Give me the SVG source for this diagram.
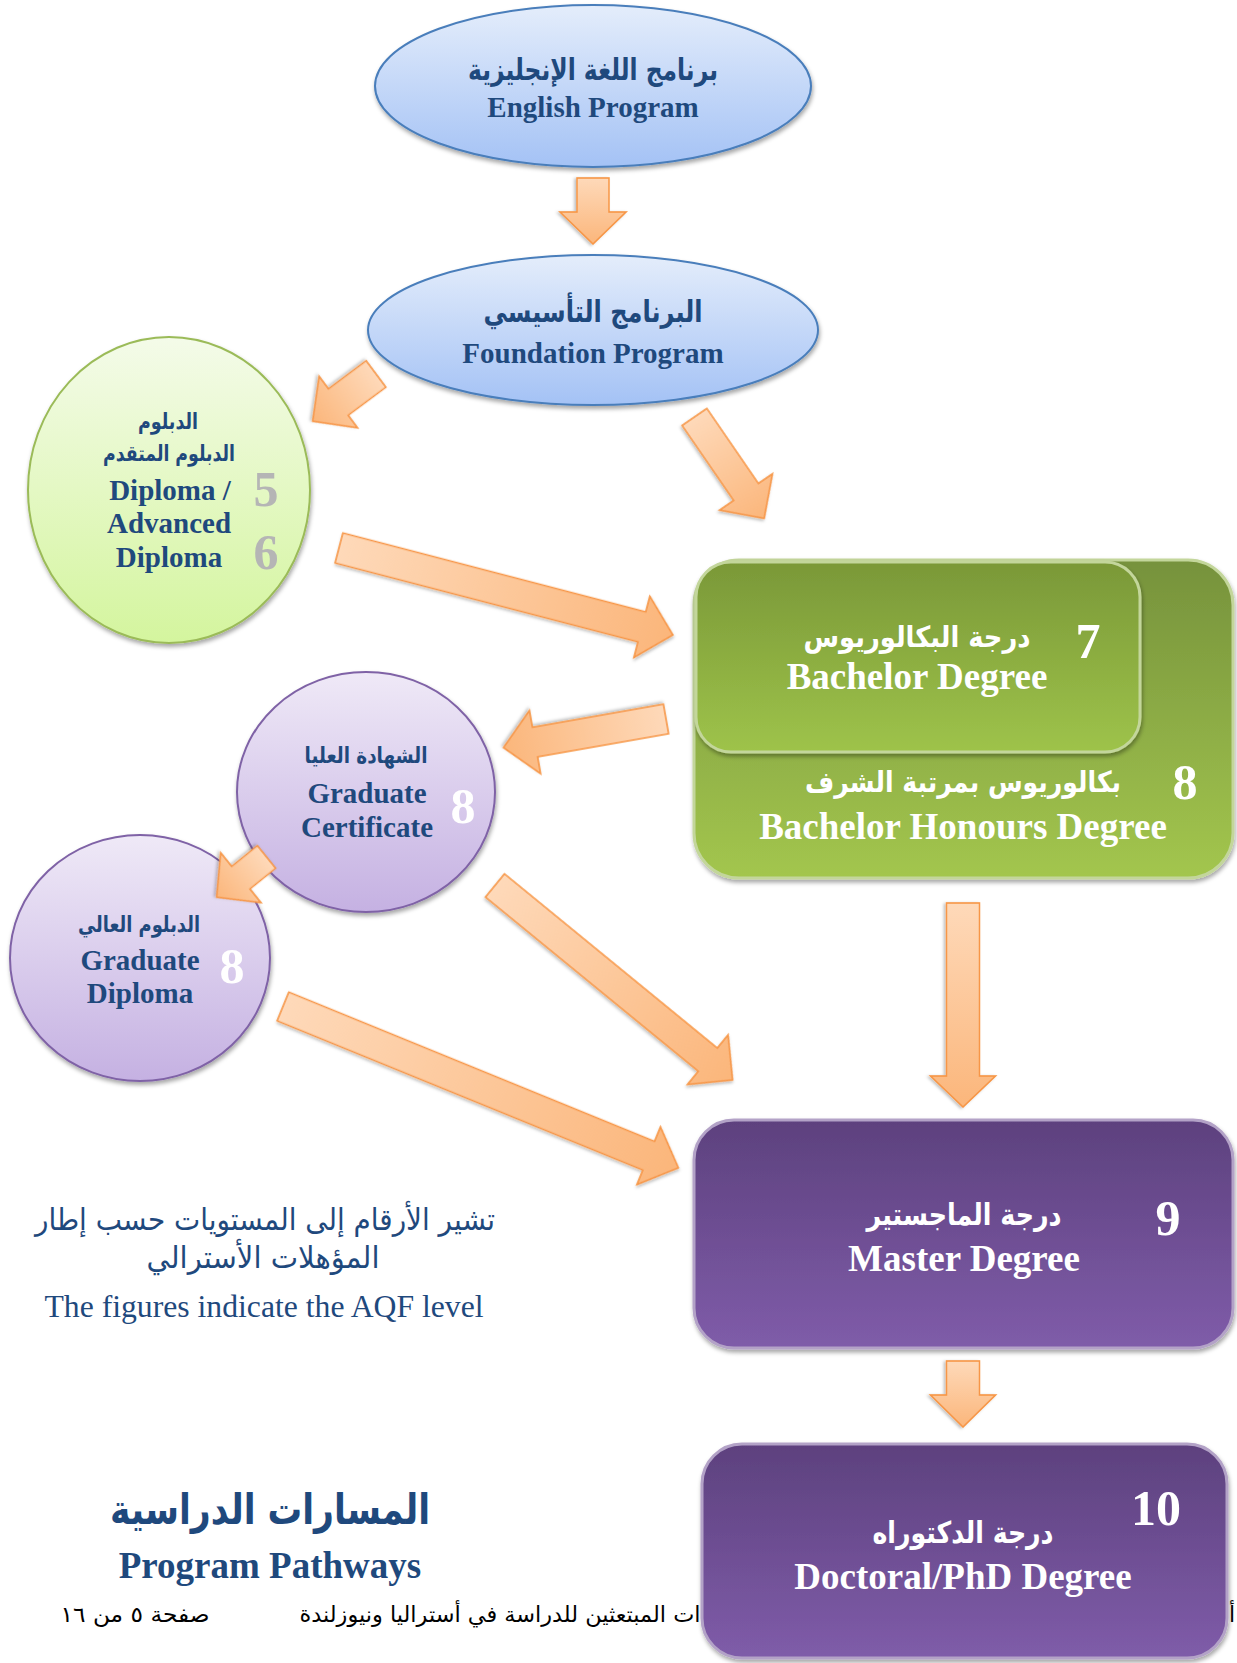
<svg xmlns="http://www.w3.org/2000/svg" width="1237" height="1663" viewBox="0 0 1237 1663">
<style>
.en{font-family:"Liberation Serif","Times New Roman",serif;font-weight:bold;text-anchor:middle}
.ar{font-family:"DejaVu Sans",sans-serif;font-weight:bold;text-anchor:middle}
.arr{font-family:"DejaVu Sans",sans-serif;text-anchor:middle}
.navy{fill:#1f497d}
.wh{fill:#ffffff}
.num{font-family:"Liberation Serif","Times New Roman",serif;font-weight:bold;text-anchor:middle;font-size:50px}
.arrow{fill:url(#gArrow);stroke:#f79646;stroke-width:1.6;filter:url(#shA)}
</style>
<defs>
<linearGradient id="gBlue" x1="0" y1="0" x2="0" y2="1"><stop offset="0" stop-color="#e4edfb"/><stop offset="1" stop-color="#a4c2f5"/></linearGradient>
<linearGradient id="gGreenC" x1="0" y1="0" x2="0" y2="1"><stop offset="0" stop-color="#f4fbe9"/><stop offset="1" stop-color="#d4f59e"/></linearGradient>
<linearGradient id="gPurpleC" x1="0" y1="0" x2="0" y2="1"><stop offset="0" stop-color="#efe9f7"/><stop offset="1" stop-color="#c5b1e2"/></linearGradient>
<linearGradient id="gGreenBox" x1="0" y1="0" x2="0" y2="1"><stop offset="0" stop-color="#76923c"/><stop offset="1" stop-color="#a3c64e"/></linearGradient>
<linearGradient id="gGreenIn" x1="0" y1="0" x2="0" y2="1"><stop offset="0" stop-color="#7a9838"/><stop offset="1" stop-color="#9ec34a"/></linearGradient>
<linearGradient id="gPurpleBox" x1="0" y1="0" x2="0" y2="1"><stop offset="0" stop-color="#5d417e"/><stop offset="1" stop-color="#7f5ca9"/></linearGradient>
<linearGradient id="gArrow" x1="0" y1="0" x2="1" y2="0"><stop offset="0" stop-color="#fed9b9"/><stop offset="1" stop-color="#fbb67b"/></linearGradient>
<filter id="sh" x="-10%" y="-10%" width="125%" height="130%"><feDropShadow dx="1" dy="3" stdDeviation="2" flood-color="#000" flood-opacity="0.35"/></filter>
<filter id="shA" x="-10%" y="-20%" width="130%" height="150%"><feDropShadow dx="1" dy="2" stdDeviation="1.5" flood-color="#000" flood-opacity="0.25"/></filter>
</defs>
<rect width="1237" height="1663" fill="#ffffff"/>

<g id="legend">
<text class="arr navy" x="265" y="1230" font-size="30" textLength="460" lengthAdjust="spacingAndGlyphs">تشير الأرقام إلى المستويات حسب إطار</text>
<text class="arr navy" x="263" y="1268" font-size="30" textLength="233" lengthAdjust="spacingAndGlyphs">المؤهلات الأسترالي</text>
<text x="264" y="1317" font-family="'Liberation Serif','Times New Roman',serif" font-size="31.7" text-anchor="middle" fill="#1f497d">The figures indicate the AQF level</text>
</g>

<g id="title">
<text class="ar navy" x="270" y="1524" font-size="42" textLength="320" lengthAdjust="spacingAndGlyphs">المسارات الدراسية</text>
<text class="en navy" x="270" y="1578" font-size="37">Program Pathways</text>
</g>

<g id="footer">
<text class="arr" x="135" y="1622" font-size="22" fill="#000" textLength="149" lengthAdjust="spacingAndGlyphs">صفحة ٥ من ١٦</text>
<text class="arr" x="500" y="1622" font-size="22" fill="#000" textLength="401" lengthAdjust="spacingAndGlyphs">ات المبتعثين للدراسة في أستراليا ونيوزلندة</text>
<text x="1229" y="1622" font-family="'DejaVu Sans',sans-serif" font-size="22" fill="#000">أ</text>
</g>

<g id="english">
<ellipse cx="593" cy="86" rx="218" ry="81" fill="url(#gBlue)" stroke="#4a7ebb" stroke-width="2" filter="url(#sh)"/>
<text class="ar navy" x="593" y="80" font-size="30" textLength="250" lengthAdjust="spacingAndGlyphs">برنامج اللغة الإنجليزية</text>
<text class="en navy" x="593" y="117" font-size="29">English Program</text>
</g>

<g id="foundation">
<ellipse cx="593" cy="330" rx="225" ry="75" fill="url(#gBlue)" stroke="#4a7ebb" stroke-width="2" filter="url(#sh)"/>
<text class="ar navy" x="593" y="322" font-size="30" textLength="219" lengthAdjust="spacingAndGlyphs">البرنامج التأسيسي</text>
<text class="en navy" x="593" y="363" font-size="29">Foundation Program</text>
</g>

<g id="diploma">
<ellipse cx="169" cy="490" rx="141" ry="153" fill="url(#gGreenC)" stroke="#9bbb59" stroke-width="2" filter="url(#sh)"/>
<text class="ar navy" x="168" y="429" font-size="22" textLength="60" lengthAdjust="spacingAndGlyphs">الدبلوم</text>
<text class="ar navy" x="169" y="461" font-size="22" textLength="132" lengthAdjust="spacingAndGlyphs">الدبلوم المتقدم</text>
<text class="en navy" x="170" y="500" font-size="29">Diploma /</text>
<text class="en navy" x="169" y="533" font-size="29">Advanced</text>
<text class="en navy" x="169" y="567" font-size="29">Diploma</text>
<text class="num" x="266" y="506" fill="#b5b5b5">5</text>
<text class="num" x="266" y="569" fill="#b5b5b5">6</text>
</g>

<g id="bachelor">
<rect x="694" y="560" width="539" height="318" rx="45" fill="url(#gGreenBox)" stroke="#c3d69b" stroke-width="3" filter="url(#sh)"/>
<rect x="696" y="562" width="444" height="190" rx="35" fill="url(#gGreenIn)" stroke="#c3d69b" stroke-width="3" filter="url(#sh)"/>
<text class="num wh" x="1088" y="658">7</text>
<text class="ar wh" x="917" y="647" font-size="29" textLength="227" lengthAdjust="spacingAndGlyphs">درجة البكالوريوس</text>
<text class="en wh" x="917" y="689" font-size="37">Bachelor Degree</text>
<text class="num wh" x="1185" y="799">8</text>
<text class="ar wh" x="963" y="792" font-size="29" textLength="316" lengthAdjust="spacingAndGlyphs">بكالوريوس بمرتبة الشرف</text>
<text class="en wh" x="963" y="839" font-size="37">Bachelor Honours Degree</text>
</g>

<g id="gradcert">
<ellipse cx="366" cy="792" rx="129" ry="120" fill="url(#gPurpleC)" stroke="#7f62a6" stroke-width="2" filter="url(#sh)"/>
<text class="ar navy" x="366" y="763" font-size="22" textLength="123" lengthAdjust="spacingAndGlyphs">الشهادة العليا</text>
<text class="en navy" x="367" y="803" font-size="29">Graduate</text>
<text class="en navy" x="367" y="837" font-size="29">Certificate</text>
<text class="num wh" x="463" y="823">8</text>
</g>

<g id="graddip">
<ellipse cx="140" cy="958" rx="130" ry="123" fill="url(#gPurpleC)" stroke="#7f62a6" stroke-width="2" filter="url(#sh)"/>
<text class="ar navy" x="139" y="932" font-size="22" textLength="122" lengthAdjust="spacingAndGlyphs">الدبلوم العالي</text>
<text class="en navy" x="140" y="970" font-size="29">Graduate</text>
<text class="en navy" x="140" y="1003" font-size="29">Diploma</text>
<text class="num wh" x="232" y="983">8</text>
</g>

<g id="master">
<rect x="694" y="1120" width="539" height="228" rx="40" fill="url(#gPurpleBox)" stroke="#b3a2c7" stroke-width="3" filter="url(#sh)"/>
<text class="num wh" x="1168" y="1235">9</text>
<text class="ar wh" x="964" y="1225" font-size="30" textLength="195" lengthAdjust="spacingAndGlyphs">درجة الماجستير</text>
<text class="en wh" x="964" y="1271" font-size="37">Master Degree</text>
</g>

<g id="doctoral">
<rect x="702" y="1444" width="525" height="214" rx="40" fill="url(#gPurpleBox)" stroke="#b3a2c7" stroke-width="3" filter="url(#sh)"/>
<text class="num wh" x="1156" y="1525">10</text>
<text class="ar wh" x="963" y="1543" font-size="30" textLength="181" lengthAdjust="spacingAndGlyphs">درجة الدكتوراه</text>
<text class="en wh" x="963" y="1589" font-size="37">Doctoral/PhD Degree</text>
</g>

<g id="connectors">
<polygon class="arrow" transform="translate(593,178) rotate(90)" points="0,-16 34,-16 34,-33 66,0 34,33 34,16 0,16"/>
<polygon class="arrow" transform="translate(376,374) rotate(143.3)" points="0,-16.5 47,-16.5 47,-32 79,0 47,32 47,16.5 0,16.5"/>
<polygon class="arrow" transform="translate(694.5,417) rotate(55.5)" points="0,-15 91,-15 91,-32 123,0 91,32 91,15 0,15"/>
<polygon class="arrow" transform="translate(339,548) rotate(14.6)" points="0,-15.5 313,-15.5 313,-31.5 345,0 313,31.5 313,15.5 0,15.5"/>
<polygon class="arrow" transform="translate(666,719) rotate(170)" points="0,-15 133,-15 133,-32 165,0 133,32 133,15 0,15"/>
<polygon class="arrow" transform="translate(266.5,857) rotate(141.1)" points="0,-14.5 33,-14.5 33,-32 64,0 33,32 33,14.5 0,14.5"/>
<polygon class="arrow" transform="translate(495,885.5) rotate(39.3)" points="0,-15 275,-15 275,-32 307,0 275,32 275,15 0,15"/>
<polygon class="arrow" transform="translate(283,1006.5) rotate(22.2)" points="0,-15.5 395,-15.5 395,-31 427,0 395,31 395,15.5 0,15.5"/>
<polygon class="arrow" transform="translate(963,903) rotate(90)" points="0,-16.5 173,-16.5 173,-32.5 204,0 173,32.5 173,16.5 0,16.5"/>
<polygon class="arrow" transform="translate(963,1361) rotate(90)" points="0,-16.5 34,-16.5 34,-32.5 66,0 34,32.5 34,16.5 0,16.5"/>
</g>
</svg>
